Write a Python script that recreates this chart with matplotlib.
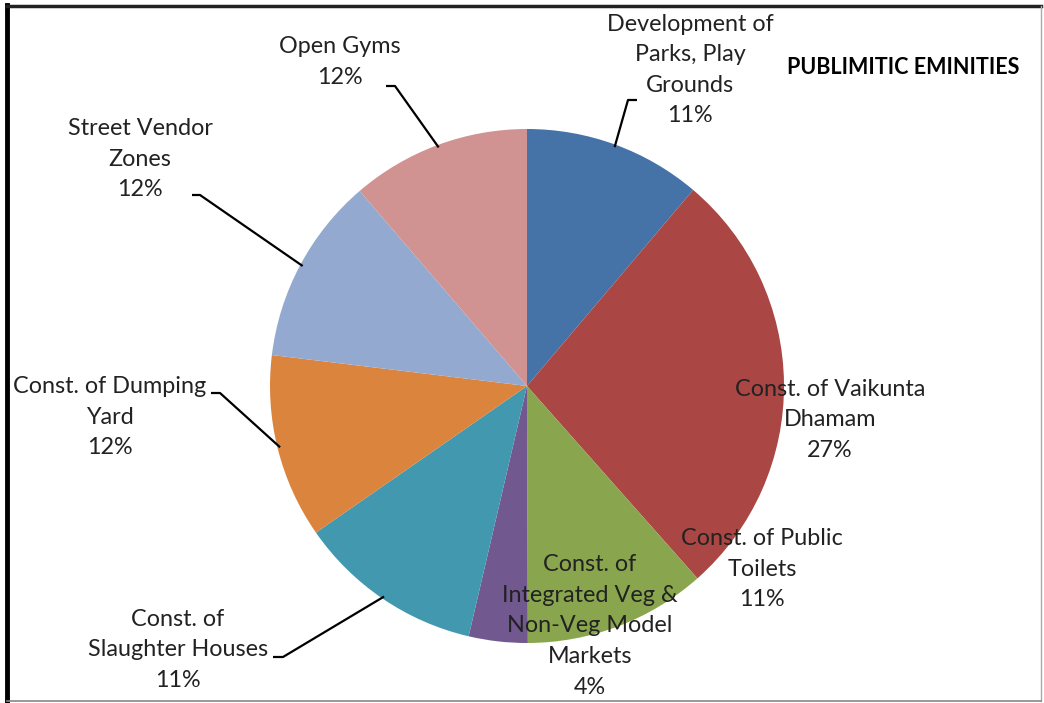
import matplotlib.pyplot as plt
import numpy as np

# slices go clockwise from 12 o'clock
categories = ["Development of\nParks, Play\nGrounds",
              "Const. of Vaikunta\nDhamam",
              "Const. of Public\nToilets",
              "Const. of\nIntegrated Veg &\nNon-Veg Model\nMarkets",
              "Const. of\nSlaughter Houses",
              "Const. of Dumping\nYard",
              "Street Vendor\nZones",
              "Open Gyms"]
# slice sizes as measured off the wedges, printed labels as shown on the chart
shares = [11.2, 27.3, 11.5, 3.7, 11.7, 11.6, 11.8, 11.3]
pct_labels = ["11%", "27%", "11%", "4%", "11%", "12%", "12%", "12%"]
colors = ["#4572A7", "#AA4643", "#89A54E", "#71588F",
          "#4198AF", "#DB843D", "#93A9CF", "#D19392"]
title = "PUBLIMITIC EMINITIES"

W, H = 1044, 703
plt.rcParams["font.family"] = ["Lato", "DejaVu Sans"]

fig = plt.figure(figsize=(10.44, 7.03), dpi=100)
ax = fig.add_axes([0, 0, 1, 1])

def fy(y):
    '''picture rows (top down) -> axes y (bottom up)'''
    return H - y

cx, cy, r = 527, fy(386), 257
wedges, _ = ax.pie(shares, colors=colors, startangle=90, counterclock=False,
                   center=(cx, cy), radius=r, frame=True,
                   wedgeprops=dict(linewidth=0))
ax.set_xlim(0, W)
ax.set_ylim(0, H)
ax.set_aspect("equal")
ax.axis("off")

# label placement: text centre, and the short stub where the leader leaves the text
layout = [
    ((690, 70), (637, 628, 100)),
    ((830, 420), None),
    ((762, 569), None),
    ((590, 626), None),
    ((178, 650), (273, 283, 657)),
    ((110, 417), (211, 220, 393)),
    ((140, 159), (192, 200, 195)),
    ((340, 62), (386, 395, 86)),
]

for name, pct, w, (pos, stub) in zip(categories, pct_labels, wedges, layout):
    ax.text(pos[0], fy(pos[1]), f"{name}\n{pct}", ha="center", va="center",
            fontsize=16.8, color="#222222", linespacing=1.56)
    if stub is not None:
        mid = np.deg2rad((w.theta1 + w.theta2) / 2)
        ex = cx + 0.99 * r * np.cos(mid)
        ey = cy + 0.99 * r * np.sin(mid)
        ax.plot([stub[0], stub[1], ex], [fy(stub[2]), fy(stub[2]), ey],
                color="black", lw=1.6, solid_capstyle="butt")

ax.text(903, fy(68), title, ha="center", va="center", fontsize=15.5,
        fontweight="bold", color="black")

# frame round the chart
fig.add_artist(plt.Line2D([7 / W, 7 / W], [0, 1 - 5 / H], color="black", lw=3.5))
fig.add_artist(plt.Line2D([7 / W, 1041 / W], [1 - 6 / H, 1 - 6 / H], color="#222222", lw=2.5))
fig.add_artist(plt.Line2D([1041 / W, 1041 / W], [2 / H, 1 - 6 / H], color="#aaaaaa", lw=1))
fig.add_artist(plt.Line2D([7 / W, 1041 / W], [2 / H, 2 / H], color="#888888", lw=1.2))

fig.savefig("out.png", dpi=100, facecolor="white")
